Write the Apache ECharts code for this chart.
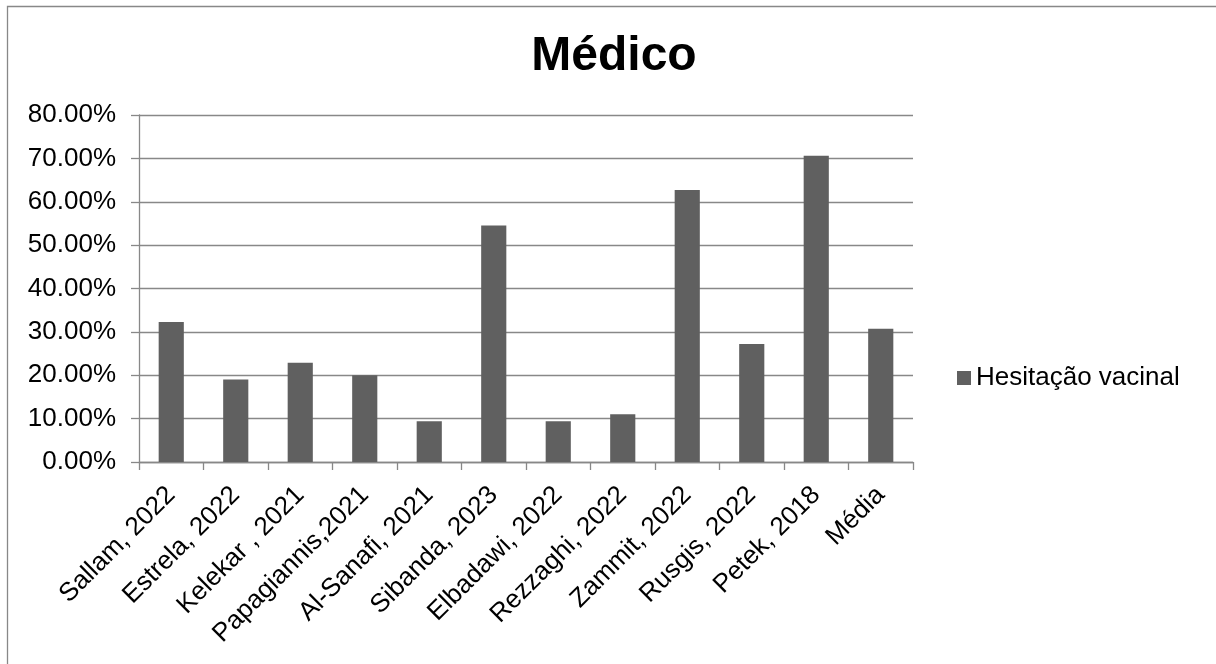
<!DOCTYPE html>
<html>
<head>
<meta charset="utf-8">
<script src="https://cdn.jsdelivr.net/npm/echarts@6/dist/echarts.min.js"></script>
<style>
html,body{margin:0;padding:0;background:#fff;}
#chart{width:1216px;height:664px;}
</style>
</head>
<body>
<div id="chart"></div>
<script>
const categories = ['Sallam, 2022','Estrela, 2022','Kelekar , 2021','Papagiannis,2021','Al-Sanafi, 2021','Sibanda, 2023','Elbadawi, 2022','Rezzaghi, 2022','Zammit, 2022','Rusgis, 2022','Petek, 2018','Média'];
const hesitacao = [0.323, 0.190, 0.229, 0.200, 0.094, 0.545, 0.094, 0.110, 0.627, 0.272, 0.706, 0.307];
const seriesName = 'Hesitação vacinal';
const titleText = 'Médico';

const FONT = '"Liberation Sans", Arial, sans-serif';
const chart = echarts.init(document.getElementById('chart'), null, {renderer:'canvas'});
chart.setOption({
  backgroundColor:'#ffffff',
  animation:false,
  title:{
    text:titleText, left:609, top:28, textAlign:'center',
    textStyle:{fontFamily:FONT, fontSize:48, fontWeight:'bold', color:'#000'}
  },
  legend:{
    data:[seriesName], left:952, top:360, orient:'vertical',
    itemWidth:14, itemHeight:14, icon:'rect',
    textStyle:{fontFamily:FONT, fontSize:26, color:'#000'}
  },
  graphic:[{
    type:'rect', shape:{x:7.5, y:6.5, width:1230, height:680},
    style:{fill:'none', stroke:'#888888', lineWidth:1.3}, silent:true, z:-10
  }],
  grid:{left:139, top:115, width:774, height:347, containLabel:false, outerBoundsMode:'none'},
  xAxis:{
    type:'category', data:categories,
    axisLine:{lineStyle:{color:'#888888', width:1.3}},
    axisTick:{show:true, length:8, inside:false, lineStyle:{color:'#888888', width:1.3}},
    axisLabel:{rotate:45, margin:29, interval:0, fontFamily:FONT, fontSize:26, color:'#000'}
  },
  yAxis:{
    type:'value', min:0, max:0.8, interval:0.1,
    axisLine:{show:true, lineStyle:{color:'#888888', width:1.3}},
    axisTick:{show:true, length:8, lineStyle:{color:'#888888', width:1.3}},
    splitLine:{show:true, lineStyle:{color:'#888888', width:1.3}},
    axisLabel:{margin:23, fontFamily:FONT, fontSize:26, color:'#000',
      formatter:v=>(v*100).toFixed(2)+'%'}
  },
  series:[{
    name:seriesName, type:'bar', data:hesitacao,
    barCategoryGap:'61%',
    itemStyle:{color:'#606060'}
  }]
});
</script>
</body>
</html>
